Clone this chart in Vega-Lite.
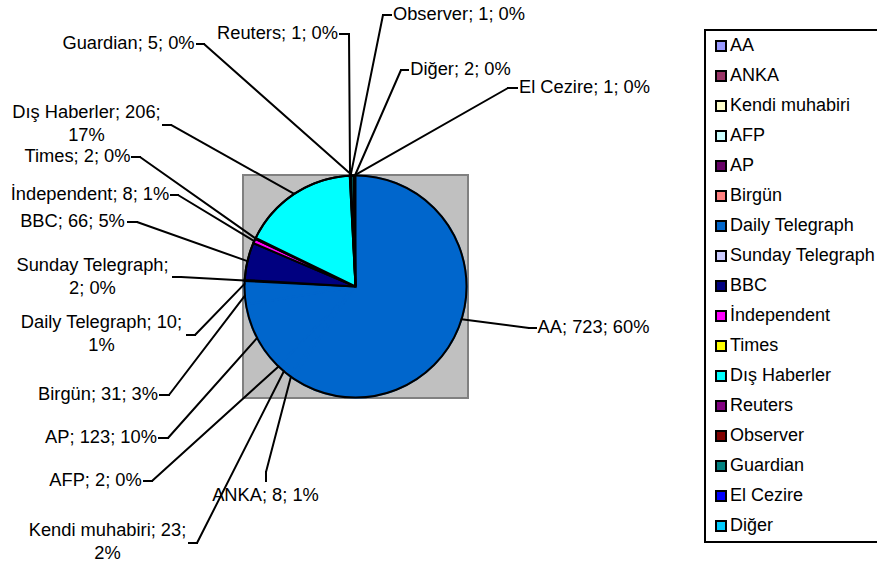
{
  "$schema": "https://vega.github.io/schema/vega-lite/v6.json",
  "width": 225,
  "height": 223,
  "autosize": {"type": "none"},
  "padding": {"left": 243, "top": 175, "right": 409, "bottom": 170},
  "background": "white",
  "config": {
    "view": {"fill": "#C0C0C0", "stroke": "#808080", "strokeWidth": 2},
    "font": "Liberation Sans",
    "legend": {"strokeWidth": 2}
  },
  "datasets": {
    "sources": [
      {"source": "AA", "count": 723},
      {"source": "ANKA", "count": 8},
      {"source": "Kendi muhabiri", "count": 23},
      {"source": "AFP", "count": 2},
      {"source": "AP", "count": 123},
      {"source": "Birgün", "count": 31},
      {"source": "Daily Telegraph", "count": 10},
      {"source": "Sunday Telegraph", "count": 2},
      {"source": "BBC", "count": 66},
      {"source": "İndependent", "count": 8},
      {"source": "Times", "count": 2},
      {"source": "Dış Haberler", "count": 206},
      {"source": "Reuters", "count": 1},
      {"source": "Observer", "count": 1},
      {"source": "Guardian", "count": 5},
      {"source": "El Cezire", "count": 1},
      {"source": "Diğer", "count": 2}
    ],
    "labels": [
      {"source": "AA", "label": "AA; 723; 60%", "tx": 2.1441, "ty": -0.3739, "ax": 1.6261, "ay": -0.3739, "kx": 1.5631, "ky": -0.3739},
      {"source": "ANKA", "label": "ANKA; 8; 1%", "tx": -0.8108, "ty": -1.8874, "ax": -0.8063, "ay": -1.7523, "kx": -0.8063, "ky": -1.6712},
      {"source": "Kendi muhabiri", "label": "Kendi muhabiri; 23;\n2%", "tx": -2.2342, "ty": -2.2027, "ax": -1.5, "ay": -2.3108, "kx": -1.4279, "ky": -2.3108},
      {"source": "AFP", "label": "AFP; 2; 0%", "tx": -2.3423, "ty": -1.7523, "ax": -1.9054, "ay": -1.7523, "kx": -1.8333, "ky": -1.7523},
      {"source": "AP", "label": "AP; 123; 10%", "tx": -2.2928, "ty": -1.3649, "ax": -1.7703, "ay": -1.3649, "kx": -1.6892, "ky": -1.3649},
      {"source": "Birgün", "label": "Birgün; 31; 3%", "tx": -2.3198, "ty": -0.9775, "ax": -1.7613, "ay": -0.9775, "kx": -1.6802, "ky": -0.9775},
      {"source": "Daily Telegraph", "label": "Daily Telegraph; 10;\n1%", "tx": -2.2883, "ty": -0.3288, "ax": -1.518, "ay": -0.4369, "kx": -1.4459, "ky": -0.4369},
      {"source": "Sunday Telegraph", "label": "Sunday Telegraph;\n2; 0%", "tx": -2.3694, "ty": 0.1847, "ax": -1.6441, "ay": 0.0856, "kx": -1.5721, "ky": 0.0856},
      {"source": "BBC", "label": "BBC; 66; 5%", "tx": -2.5495, "ty": 0.5811, "ax": -2.0495, "ay": 0.5811, "kx": -1.9685, "ky": 0.5811},
      {"source": "İndependent", "label": "İndependent; 8; 1%", "tx": -2.3919, "ty": 0.8243, "ax": -1.6622, "ay": 0.8243, "kx": -1.5991, "ky": 0.8243},
      {"source": "Times", "label": "Times; 2; 0%", "tx": -2.5045, "ty": 1.1667, "ax": -2.0135, "ay": 1.1667, "kx": -1.9414, "ky": 1.1667},
      {"source": "Dış Haberler", "label": "Dış Haberler; 206;\n17%", "tx": -2.4234, "ty": 1.5631, "ax": -1.7342, "ay": 1.455, "kx": -1.6622, "ky": 1.455},
      {"source": "Reuters", "label": "Reuters; 1; 0%", "tx": -0.7027, "ty": 2.2748, "ax": -0.1396, "ay": 2.2748, "kx": -0.0586, "ky": 2.2748},
      {"source": "Observer", "label": "Observer; 1; 0%", "tx": 0.9324, "ty": 2.4459, "ax": 0.3198, "ay": 2.4459, "kx": 0.2477, "ky": 2.4459},
      {"source": "Guardian", "label": "Guardian; 5; 0%", "tx": -2.045, "ty": 2.1847, "ax": -1.4279, "ay": 2.1847, "kx": -1.3649, "ky": 2.1847},
      {"source": "El Cezire", "label": "El Cezire; 1; 0%", "tx": 2.0631, "ty": 1.7883, "ax": 1.455, "ay": 1.7883, "kx": 1.3739, "ky": 1.7883},
      {"source": "Diğer", "label": "Diğer; 2; 0%", "tx": 0.9459, "ty": 1.9505, "ax": 0.473, "ay": 1.9505, "kx": 0.4099, "ky": 1.9505}
    ]
  },
  "data": {"name": "sources"},
  "transform": [
    {"window": [{"op": "sum", "field": "count", "as": "cum"}, {"op": "row_number", "as": "idx"}], "frame": [null, 0]},
    {"joinaggregate": [{"op": "sum", "field": "count", "as": "total"}]},
    {"calculate": "(datum.cum - datum.count / 2) / datum.total", "as": "mid"},
    {"calculate": "sin(2 * PI * datum.mid)", "as": "ex"},
    {"calculate": "cos(2 * PI * datum.mid)", "as": "ey"},
    {"lookup": "source", "from": {"data": {"name": "labels"}, "key": "source", "fields": ["label", "tx", "ty", "ax", "ay", "kx", "ky"]}}
  ],
  "layer": [
    {
      "mark": {"type": "square", "size": 0, "filled": true, "stroke": "black", "strokeWidth": 1.5},
      "encoding": {
        "color": {
          "field": "source", "type": "nominal", "sort": null,
          "scale": {"range": ["#9999FF", "#993366", "#FFFFCC", "#CCFFFF", "#660066", "#FF8080", "#0066CC", "#CCCCFF", "#000080", "#FF00FF", "#FFFF00", "#00FFFF", "#800080", "#800000", "#008080", "#0000FF", "#00CCFF"]},
          "legend": {
            "title": null, "orient": "none", "legendX": 462, "legendY": -145, "direction": "vertical",
            "padding": 7, "strokeColor": "black", "fillColor": "white",
            "labelFont": "Liberation Sans", "labelFontSize": 18, "labelColor": "black", "labelLimit": 400,
            "labelOffset": 0, "symbolType": "square", "symbolSize": 100, "symbolStrokeColor": "black",
            "symbolStrokeWidth": 2, "symbolOpacity": 1, "rowPadding": 12
          }
        }
      }
    },
    {
      "mark": {"type": "arc", "outerRadius": 111, "strokeWidth": 2},
      "encoding": {
        "theta": {"field": "count", "type": "quantitative", "stack": true},
        "order": {"field": "idx", "type": "quantitative"},
        "fill": {
          "field": "source", "type": "nominal", "sort": null, "legend": null,
          "scale": {"range": ["#0066CC", "#0066CC", "#0066CC", "#0066CC", "#0066CC", "#0066CC", "#0066CC", "#CCCCFF", "#000080", "#FF00FF", "#FFFF00", "#00FFFF", "#800080", "#800000", "#008080", "#0000FF", "#00CCFF"]}
        },
        "stroke": {
          "field": "source", "type": "nominal", "sort": null, "legend": null,
          "scale": {"range": ["#0066CC", "#0066CC", "#0066CC", "#0066CC", "#0066CC", "#0066CC", "#0066CC", "black", "black", "black", "black", "black", "black", "black", "black", "black", "black"]}
        }
      }
    },
    {
      "transform": [{"aggregate": [{"op": "sum", "field": "count", "as": "all"}]}],
      "mark": {"type": "arc", "outerRadius": 111, "filled": false, "color": "black", "strokeWidth": 2},
      "encoding": {
        "theta": {"field": "all", "type": "quantitative"}
      }
    },
    {
      "mark": {"type": "rule", "color": "black", "strokeWidth": 2, "strokeCap": "square"},
      "encoding": {
        "x": {"field": "ax", "type": "quantitative", "axis": null, "scale": {"domain": [-1.01351, 1.01351], "nice": false, "zero": false}},
        "y": {"field": "ay", "type": "quantitative", "axis": null, "scale": {"domain": [-1.004505, 1.004505], "nice": false, "zero": false}},
        "x2": {"field": "kx"},
        "y2": {"field": "ky"}
      }
    },
    {
      "mark": {"type": "rule", "color": "black", "strokeWidth": 2, "strokeCap": "round"},
      "encoding": {
        "x": {"field": "kx", "type": "quantitative", "axis": null, "scale": {"domain": [-1.01351, 1.01351], "nice": false, "zero": false}},
        "y": {"field": "ky", "type": "quantitative", "axis": null, "scale": {"domain": [-1.004505, 1.004505], "nice": false, "zero": false}},
        "x2": {"field": "ex"},
        "y2": {"field": "ey"}
      }
    },
    {
      "mark": {"type": "text", "font": "Liberation Sans", "fontSize": 18.3, "lineHeight": 23, "lineBreak": "\n", "align": "center", "baseline": "middle", "color": "black"},
      "encoding": {
        "x": {"field": "tx", "type": "quantitative", "axis": null, "scale": {"domain": [-1.01351, 1.01351], "nice": false, "zero": false}},
        "y": {"field": "ty", "type": "quantitative", "axis": null, "scale": {"domain": [-1.004505, 1.004505], "nice": false, "zero": false}},
        "text": {"field": "label", "type": "nominal"}
      }
    }
  ]
}
